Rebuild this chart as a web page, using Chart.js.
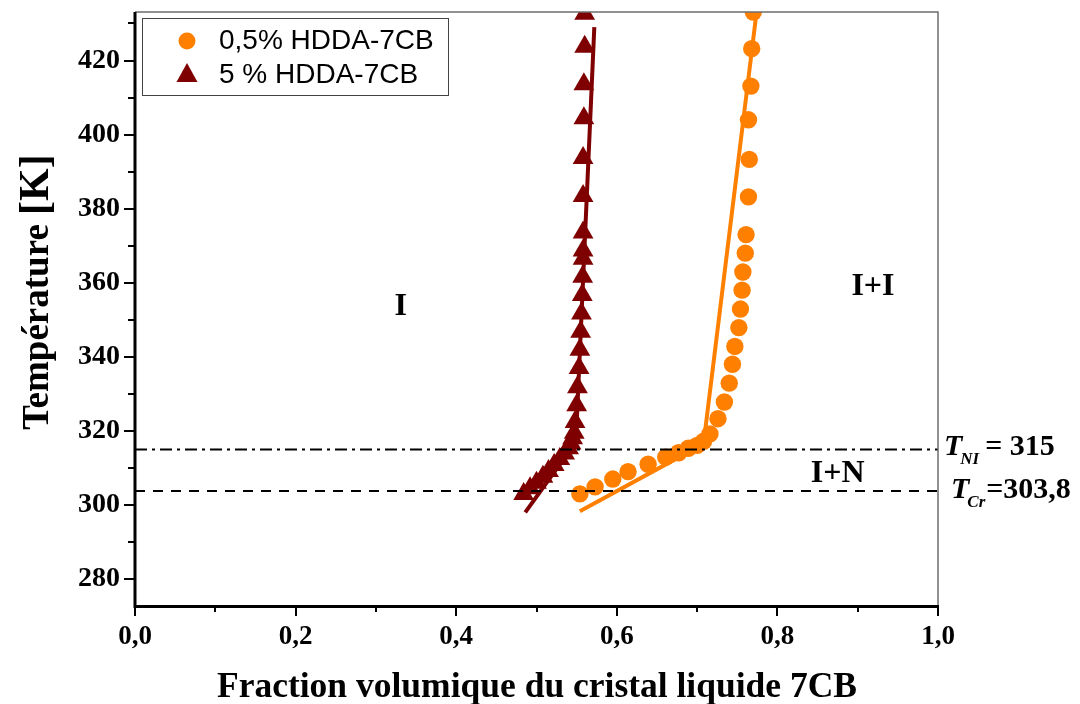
<!DOCTYPE html>
<html>
<head>
<meta charset="utf-8">
<script src="https://cdn.jsdelivr.net/npm/chart.js@4.4.1/dist/chart.umd.min.js"></script>
<style>
  html, body { margin: 0; padding: 0; background: #fff; }
</style>
</head>
<body>
<canvas id="diagram" width="1080" height="704"></canvas>
<script>
// series (x = fraction volumique, y = temperature K)
var orangeX = [0.554, 0.573, 0.595, 0.614, 0.639, 0.661, 0.677, 0.689, 0.700, 0.708, 0.716, 0.726, 0.734, 0.740, 0.744, 0.747, 0.752, 0.754, 0.756, 0.757, 0.760, 0.761, 0.764, 0.765, 0.764, 0.767, 0.768, 0.770];
var orangeT = [303.0, 304.9, 307.0, 309.0, 311.0, 312.9, 314.1, 315.3, 316.1, 317.2, 319.2, 323.3, 327.8, 332.9, 338.0, 342.8, 347.9, 352.9, 358.0, 362.9, 368.0, 373.0, 383.2, 393.3, 404.0, 413.1, 423.2, 433.1];

var maroonX = [0.484, 0.492, 0.500, 0.508, 0.515, 0.522, 0.529, 0.535, 0.540, 0.543, 0.545, 0.547, 0.548, 0.550, 0.551, 0.553, 0.554, 0.555, 0.556, 0.557, 0.5575, 0.558, 0.558, 0.558, 0.558, 0.558, 0.559, 0.559, 0.560, 0.560];
var maroonT = [303.0, 304.5, 306.0, 307.6, 309.2, 310.8, 312.4, 313.9, 315.3, 316.6, 318.0, 319.5, 322.4, 326.9, 331.8, 337.0, 341.9, 346.8, 351.7, 356.7, 361.6, 366.5, 368.7, 373.6, 383.4, 393.7, 404.4, 413.6, 423.7, 432.6];

// fitted lines
var fitOrangeX = [0.554, 0.708, 0.774];
var fitOrangeT = [298.3, 316.5, 433.0];
var fitMaroonX = [0.486, 0.549, 0.572];
var fitMaroonT = [298.0, 317.0, 429.0];

// transition temperatures
var T_NI = 315;
var T_Cr = 303.8;

var xTicks = [0, 0.2, 0.4, 0.6, 0.8, 1.0];
var xMinor = [0.1, 0.3, 0.5, 0.7, 0.9];
var yTicks = [280, 300, 320, 340, 360, 380, 400, 420];
var yMinor = [290, 310, 330, 350, 370, 390, 410, 430];

var seriesNames = ['0,5% HDDA-7CB', '5 % HDDA-7CB'];
var regionNames = ['I', 'I+I', 'I+N'];
var regionX = [0.331, 0.919, 0.875];
var regionT = [353.5, 358.8, 308.4];

var ORANGE = '#ff8000';
var MAROON = '#7f0000';
var SERIF = '"Liberation Serif", "Times New Roman", serif';
var SANS = '"Liberation Sans", Arial, sans-serif';

function pts(xs, ys) {
  var out = [];
  for (var i = 0; i < xs.length; i++) out.push({x: xs[i], y: ys[i]});
  return out;
}
function comma(v) { return v.toFixed(1).replace('.', ','); }

// frame, ticks, titles, labels and legend
var decor = {
  id: 'decor',
  afterDraw: function(chart) {
    var c = chart.ctx, a = chart.chartArea;
    var xs = chart.scales.x, ys = chart.scales.y;
    c.save();

    // thin grey frame top / right
    c.strokeStyle = '#6e6e6e';
    c.lineWidth = 1.5;
    c.beginPath();
    c.moveTo(a.left, a.top); c.lineTo(a.right, a.top); c.lineTo(a.right, a.bottom);
    c.stroke();

    // axes
    c.strokeStyle = '#000';
    c.lineWidth = 3;
    c.beginPath();
    c.moveTo(a.left, a.top); c.lineTo(a.left, a.bottom + 1.5); c.lineTo(a.right, a.bottom + 1.5);
    c.stroke();

    // ticks
    c.lineWidth = 2;
    c.beginPath();
    xTicks.forEach(function(v) { var p = Math.round(xs.getPixelForValue(v)); c.moveTo(p, a.bottom); c.lineTo(p, a.bottom + 11); });
    xMinor.forEach(function(v) { var p = Math.round(xs.getPixelForValue(v)); c.moveTo(p, a.bottom); c.lineTo(p, a.bottom + 7); });
    yTicks.forEach(function(v) { var p = Math.round(ys.getPixelForValue(v)); c.moveTo(a.left, p); c.lineTo(a.left - 11, p); });
    yMinor.forEach(function(v) { var p = Math.round(ys.getPixelForValue(v)); c.moveTo(a.left, p); c.lineTo(a.left - 7, p); });
    c.stroke();

    c.fillStyle = '#000';
    // axis titles
    c.font = 'bold 35.5px ' + SERIF;
    c.textAlign = 'center';
    c.textBaseline = 'alphabetic';
    c.fillText('Fraction volumique du cristal liquide 7CB', 537, 697);

    c.save();
    c.translate(48, 292);
    c.rotate(-Math.PI / 2);
    c.textAlign = 'left';
    c.font = 'bold 37px ' + SERIF;
    var w1 = c.measureText('Température ').width;
    c.font = 'bold 42px ' + SERIF;
    var w2 = c.measureText('[K]').width;
    var x0 = -(w1 + w2) / 2;
    c.font = 'bold 37px ' + SERIF;
    c.fillText('Température ', x0, 0);
    c.font = 'bold 42px ' + SERIF;
    c.fillText('[K]', x0 + w1, 0);
    c.restore();

    // region labels
    c.font = 'bold 32px ' + SERIF;
    c.textAlign = 'center';
    c.textBaseline = 'middle';
    for (var i = 0; i < regionNames.length; i++) {
      c.fillText(regionNames[i], xs.getPixelForValue(regionX[i]), ys.getPixelForValue(regionT[i]));
    }

    // transition labels
    c.textAlign = 'left';
    c.textBaseline = 'alphabetic';
    function tLabel(x, base, sub, rest, gap) {
      c.font = 'italic bold 30px ' + SERIF;
      c.fillText('T', x, base);
      x += c.measureText('T').width - 2;
      c.font = 'italic bold 17px ' + SERIF;
      c.fillText(sub, x, base + 9);
      x += c.measureText(sub).width + gap;
      c.font = 'bold 30px ' + SERIF;
      c.fillText(rest, x, base);
    }
    tLabel(944, ys.getPixelForValue(T_NI) + 6, 'NI', '= ' + T_NI, 6);
    tLabel(951, ys.getPixelForValue(T_Cr) + 7, 'Cr', '=' + comma(T_Cr), 1);

    // legend box
    c.strokeStyle = '#444';
    c.lineWidth = 1;
    c.strokeRect(142.5, 18.5, 306, 77);
    c.font = '28px ' + SANS;
    c.textBaseline = 'middle';
    c.fillStyle = '#000';
    c.fillText(seriesNames[0], 219, 41);
    c.fillText(seriesNames[1], 219, 75);
    c.fillStyle = ORANGE;
    c.beginPath(); c.arc(187, 41, 8.5, 0, Math.PI * 2); c.fill();
    c.fillStyle = MAROON;
    c.beginPath(); c.moveTo(187, 63); c.lineTo(197.5, 82); c.lineTo(176.5, 82); c.closePath(); c.fill();

    c.restore();
  }
};

new Chart(document.getElementById('diagram'), {
  type: 'scatter',
  data: {
    datasets: [
      { label: 'T_NI', type: 'line', data: [{x: 0, y: T_NI}, {x: 1, y: T_NI}], borderColor: '#000', borderWidth: 2, borderDash: [12, 5, 3, 5], pointRadius: 0, fill: false },
      { label: 'T_Cr', type: 'line', data: [{x: 0, y: T_Cr}, {x: 1, y: T_Cr}], borderColor: '#000', borderWidth: 2, borderDash: [10, 8], pointRadius: 0, fill: false },
      { label: 'fit ' + seriesNames[1], type: 'line', data: pts(fitMaroonX, fitMaroonT), borderColor: MAROON, borderWidth: 4, pointRadius: 0, tension: 0, fill: false },
      { label: 'fit ' + seriesNames[0], type: 'line', data: pts(fitOrangeX, fitOrangeT), borderColor: ORANGE, borderWidth: 4, pointRadius: 0, tension: 0, fill: false },
      { label: seriesNames[0], data: pts(orangeX, orangeT), pointStyle: 'circle', pointRadius: 8.7, backgroundColor: ORANGE, borderWidth: 0, clip: 0 },
      { label: seriesNames[1], data: pts(maroonX, maroonT), pointStyle: 'triangle', pointRadius: 12, backgroundColor: MAROON, borderWidth: 0, clip: 0 }
    ]
  },
  options: {
    responsive: false,
    animation: false,
    devicePixelRatio: 1,
    layout: { padding: { top: 8, right: 142, left: 0, bottom: 0 } },
    plugins: { legend: { display: false }, tooltip: { enabled: false } },
    scales: {
      x: {
        type: 'linear', min: 0, max: 1,
        afterFit: function(s) { s.height = 99; s.paddingLeft = 0; s.paddingRight = 0; },
        afterBuildTicks: function(s) { s.ticks = xTicks.map(function(v) { return {value: v}; }); },
        grid: { display: false, drawTicks: false },
        border: { display: false },
        ticks: {
          callback: function(v) { return comma(v); },
          font: { family: SERIF, weight: 'bold', size: 27 },
          color: '#000', padding: 16, maxRotation: 0, autoSkip: false
        }
      },
      y: {
        type: 'linear', min: 273, max: 433.1,
        afterFit: function(s) { s.width = 135; s.paddingTop = 0; s.paddingBottom = 0; },
        afterBuildTicks: function(s) { s.ticks = yTicks.map(function(v) { return {value: v}; }); },
        grid: { display: false, drawTicks: false },
        border: { display: false },
        ticks: {
          font: { family: SERIF, weight: 'bold', size: 28 },
          color: '#000', padding: 15, autoSkip: false
        }
      }
    }
  },
  plugins: [decor]
});
</script>
</body>
</html>
